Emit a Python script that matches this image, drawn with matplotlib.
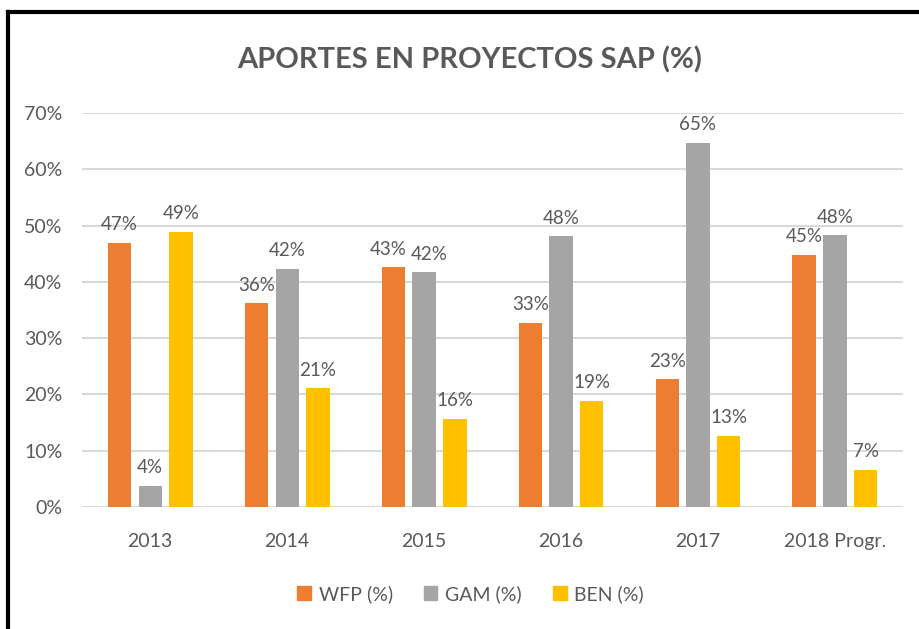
import matplotlib.pyplot as plt
import numpy as np
from matplotlib.lines import Line2D
from matplotlib.patches import Patch

years = ['2013', '2014', '2015', '2016', '2017', '2018 Progr.']
wfp = [46.9, 36.2, 42.6, 32.7, 22.7, 44.8]
gam = [3.8, 42.3, 41.7, 48.1, 64.7, 48.3]
ben = [48.9, 21.1, 15.7, 18.9, 12.6, 6.6]
series = ['WFP (%)', 'GAM (%)', 'BEN (%)']
colors = ['#ED7D31', '#A5A5A5', '#FFC000']

plt.rcParams['font.family'] = ['Lato', 'DejaVu Sans']
txt = '#595959'

fig = plt.figure(figsize=(9.19, 6.29), dpi=100)
ax = fig.add_axes([0.089, 0.194, 0.894, 0.626])

x = np.arange(len(years))
w = 0.17
step = 0.225
for i, (vals, c) in enumerate(zip([wfp, gam, ben], colors)):
    pos = x + (i - 1) * step
    ax.bar(pos, vals, width=w, color=c, zorder=3)
    for k, (p, v) in enumerate(zip(pos, vals)):
        dx = 0
        # push apart WFP/GAM labels that sit at nearly the same height
        if i < 2 and abs(wfp[k] - gam[k]) < 2:
            dx = -4 if i == 0 else 4
        ax.annotate(f'{round(v)}%', (p, v), xytext=(dx, 7), textcoords='offset points',
                    ha='center', va='bottom', fontsize=13.5, color=txt)

ax.set_xlim(-0.5, len(years) - 0.5)
ax.set_ylim(0, 70)
ax.set_yticks(range(0, 71, 10))
ax.set_yticklabels([f'{t}%' for t in range(0, 71, 10)])
ax.set_xticks(x)
ax.set_xticklabels(years)
ax.tick_params(axis='both', length=0, labelsize=14, labelcolor=txt)
ax.tick_params(axis='y', pad=14)
ax.tick_params(axis='x', pad=19)
ax.grid(axis='y', color='#D9D9D9', linewidth=1.5, zorder=0)
for s in ax.spines.values():
    s.set_visible(False)

fig.text(0.511, 0.905, 'APORTES EN PROYECTOS SAP (%)', ha='center', va='center',
         fontsize=21, fontweight='bold', color=txt)

handles = [Patch(color=c) for c in colors]
fig.legend(handles, series, loc='center', bbox_to_anchor=(0.512, 0.056), ncol=3,
           frameon=False, fontsize=14, labelcolor=txt, handlelength=0.7,
           handleheight=0.7, handletextpad=0.4, columnspacing=1.6)

# black frame at top and left
fig.add_artist(Line2D([0.009, 1.0], [0.981, 0.981], color='black', lw=3))
fig.add_artist(Line2D([0.009, 0.009], [0.0, 0.981], color='black', lw=3))

fig.savefig('out.png', dpi=100)
